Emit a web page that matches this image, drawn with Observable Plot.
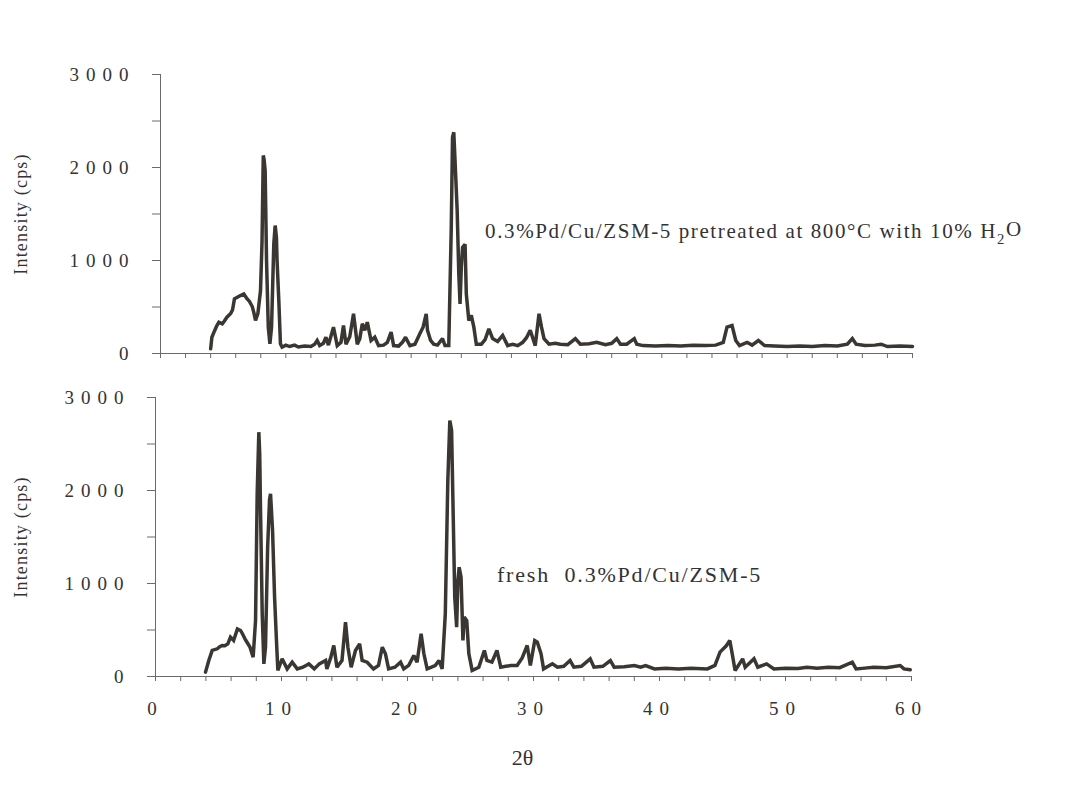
<!DOCTYPE html>
<html>
<head>
<meta charset="utf-8">
<script src="https://cdn.jsdelivr.net/npm/d3@7"></script>
<script src="https://cdn.jsdelivr.net/npm/@observablehq/plot@0.6"></script>
<style>
html, body { margin: 0; padding: 0; background: #ffffff; }
#chart { width: 1070px; height: 790px; position: relative; overflow: hidden; }
#chart svg { display: block; }
</style>
</head>
<body>
<div id="chart"></div>
<script>
// ---- Data ----
const topTheta = [4.0,4.1,4.3,4.5,4.66,4.93,5.1,5.3,5.6,5.75,5.9,6.2,6.38,6.65,6.9,7.1,7.32,7.45,7.58,7.77,7.98,8.1,8.2,8.27,8.35,8.46,8.6,8.73,8.86,9.04,9.15,9.25,9.3,9.44,9.57,9.7,10.0,10.3,10.7,11.0,11.5,12.0,12.3,12.5,12.7,13.0,13.2,13.4,13.8,14.1,14.4,14.6,14.8,15.1,15.4,15.7,15.9,16.1,16.3,16.5,16.8,17.1,17.4,17.8,18.1,18.4,18.6,19.0,19.3,19.55,19.9,20.3,20.7,20.95,21.2,21.3,21.55,21.8,22.1,22.5,22.7,23.0,23.2,23.3,23.4,23.5,23.67,23.8,23.9,24.0,24.1,24.3,24.4,24.6,24.8,25.0,25.2,25.6,25.9,26.2,26.5,26.9,27.3,27.7,28.1,28.5,28.9,29.2,29.5,29.9,30.2,30.4,30.6,31.0,31.5,31.9,32.5,33.1,33.5,34.2,34.8,35.5,36.0,36.4,36.7,37.2,37.8,38.0,38.5,39.5,40.5,41.5,42.5,43.5,44.3,44.9,45.2,45.6,45.9,46.2,46.8,47.2,47.7,48.2,49.0,50.0,51.0,52.0,53.0,54.0,54.8,55.2,55.5,56.2,57.0,57.5,58.0,59.0,60.0];
const topIntensity = [50,175,240,300,337,320,350,390,430,470,588,610,623,640,590,560,505,440,355,430,677,1200,2130,2080,1965,1000,283,104,283,1179,1376,1250,1000,570,104,68,90,75,90,70,80,75,100,140,85,110,175,90,283,85,120,300,100,180,427,100,160,320,250,337,140,175,85,90,120,230,85,80,120,175,85,100,215,283,427,250,140,100,90,160,85,85,1358,2325,2379,2075,1540,857,534,925,1140,1175,640,355,410,283,100,100,150,265,160,130,195,85,100,85,120,170,250,85,427,283,160,100,110,100,95,160,100,105,120,95,110,160,100,100,160,100,85,80,85,80,90,85,90,120,283,300,140,85,120,90,140,85,80,75,80,75,85,80,100,160,100,85,90,100,75,80,75];

const bottomTheta = [3.97,4.23,4.5,4.9,5.1,5.29,5.5,5.74,5.95,6.2,6.5,6.75,6.9,7.1,7.3,7.5,7.75,7.94,8.07,8.2,8.27,8.33,8.47,8.6,8.73,8.9,9.05,9.13,9.29,9.45,9.6,9.71,10.05,10.45,10.85,11.25,11.7,12.17,12.6,13.0,13.5,13.6,13.9,14.15,14.4,14.8,15.08,15.27,15.53,15.87,16.2,16.4,16.8,17.3,17.7,18.0,18.25,18.5,19.0,19.45,19.7,20.1,20.5,20.76,21.08,21.3,21.56,21.9,22.2,22.5,22.75,23.0,23.2,23.36,23.5,23.6,23.75,23.9,24.0,24.1,24.25,24.4,24.5,24.7,24.87,25.13,25.66,26.1,26.3,26.7,27.1,27.4,27.8,28.2,28.7,29.1,29.5,29.75,30.1,30.3,30.6,30.8,31.5,31.9,32.4,32.9,33.2,33.8,34.5,34.8,35.5,36.1,36.4,37.2,38.0,38.5,38.9,39.6,40.5,41.5,42.5,43.8,44.4,44.8,45.3,45.58,45.77,46.0,46.6,46.8,47.5,47.8,48.5,49.08,50.0,51.0,51.7,52.5,53.4,54.3,55.3,55.6,56.3,57.0,58.0,59.1,59.4,59.9];
const bottomIntensity = [47,172,280,298,320,333,330,351,423,387,512,495,460,405,360,315,208,602,1964,2627,2400,1838,674,136,315,1390,1900,1964,1570,853,387,65,190,82,154,82,100,136,82,136,172,82,200,333,100,172,584,315,100,280,351,172,154,82,120,315,244,82,100,154,82,120,226,154,459,244,82,100,118,172,82,674,2107,2752,2645,1927,853,530,1032,1175,1068,387,638,602,244,65,100,280,172,154,280,100,110,118,118,200,333,118,387,370,244,82,136,100,110,172,100,110,190,100,110,172,100,105,118,100,118,82,90,82,90,82,120,262,330,387,244,65,190,100,190,100,136,82,90,85,100,90,100,95,154,82,90,100,95,118,82,72];

const yTicks = [0, 500, 1000, 1500, 2000, 2500, 3000];
const yLabelTicks = [0, 1000, 2000, 3000];
const xTicks = [0,2,4,6,8,10,12,14,16,18,20,22,24,26,28,30,32,34,36,38,40,42,44,46,48,50,52,54,56,58,60];
const xLabelTicks = [0, 10, 20, 30, 40, 50, 60];
const yLabel = "Intensity (cps)";
const xLabel = "2θ";
const sampleLabels = [
  {text: "0.3%Pd/Cu/ZSM-5 pretreated at 800°C with 10% H2O", theta: 25.9, intensity: 1310},
  {text: "fresh  0.3%Pd/Cu/ZSM-5", theta: 27.1, intensity: 1092}
];

// ---- Styles ----
const lineColor = "#3a3631";
const axisColor = "#6a6a6a";
const textColor = "#333333";
const serif = "Liberation Serif, Times New Roman, serif";

function panel({theta, intensity, label, showXLabels, height, marginTop, marginBottom, marginLeft, marginRight, labelSize, labelSpacing}) {
  const data = theta.map((t, i) => ({theta: t, intensity: intensity[i]}));
  const marks = [
    Plot.ruleX([0], {stroke: axisColor, strokeWidth: 1}),
    Plot.ruleY([0], {stroke: axisColor, strokeWidth: 1}),
    Plot.axisY({ticks: yTicks, tickSize: 8, tickPadding: 17, stroke: axisColor, fill: textColor, label: null,
      fontFamily: serif, tickFormat: d => yLabelTicks.includes(d) ? String(d) : ""}),
    Plot.axisX({ticks: xTicks, tickSize: 5, tickPadding: 20, stroke: axisColor, fill: textColor, label: null,
      fontFamily: serif, tickFormat: showXLabels ? (d => xLabelTicks.includes(d) ? String(d) : "") : (() => "")}),
    Plot.line(data, {x: "theta", y: "intensity", stroke: lineColor, strokeWidth: 3.5, strokeLinejoin: "miter", strokeMiterlimit: 2}),
    Plot.text([label], {x: "theta", y: "intensity", text: "text", textAnchor: "start", lineAnchor: "middle",
      fontSize: labelSize, fontFamily: serif, fill: textColor}),
    Plot.text([yLabel], {frameAnchor: "left", rotate: -90, dx: -(marginLeft - 21), textAnchor: "middle",
      lineAnchor: "middle", fontSize: 18, fontFamily: serif, fill: textColor})
  ];
  if (showXLabels) {
    marks.push(Plot.text([xLabel], {frameAnchor: "bottom", dx: -11, dy: 81, lineAnchor: "middle",
      fontSize: 22, fontFamily: serif, fill: textColor}));
  }
  const svg = Plot.plot({
    width: 1070, height, marginTop, marginBottom, marginLeft, marginRight,
    x: {domain: [0, 60]},
    y: {domain: [0, 3000]},
    style: {fontFamily: serif, fontSize: "19px", background: "transparent", color: textColor},
    marks
  });
  const s = d3.select(svg);
  s.selectAll('g[aria-label="y-axis tick label"] text, g[aria-label="x-axis tick label"] text')
    .attr("letter-spacing", "7px");
  s.selectAll('g[aria-label="text"] text').each(function() {
    const t = d3.select(this);
    const content = t.text();
    if (content === label.text) {
      t.attr("letter-spacing", labelSpacing + "px").style("white-space", "pre");
      if (content.endsWith("H2O")) {
        t.text(null);
        t.append("tspan").text(content.slice(0, -2));
        t.append("tspan").attr("font-size", "70%").attr("dy", "0.35em").text("2");
        t.append("tspan").attr("dy", "-0.35em").text("O");
      }
    } else if (content === yLabel) {
      t.attr("letter-spacing", "1.2px");
    }
  });
  return svg;
}

const chart = document.getElementById("chart");
chart.appendChild(panel({
  theta: topTheta, intensity: topIntensity, label: sampleLabels[0], showXLabels: false,
  height: 380, marginTop: 74, marginBottom: 27, marginLeft: 160, marginRight: 158,
  labelSize: 21, labelSpacing: 1.6
}));
chart.appendChild(panel({
  theta: bottomTheta, intensity: bottomIntensity, label: sampleLabels[1], showXLabels: true,
  height: 410, marginTop: 17, marginBottom: 114, marginLeft: 155, marginRight: 159,
  labelSize: 22, labelSpacing: 1.8
}));
</script>
</body>
</html>
